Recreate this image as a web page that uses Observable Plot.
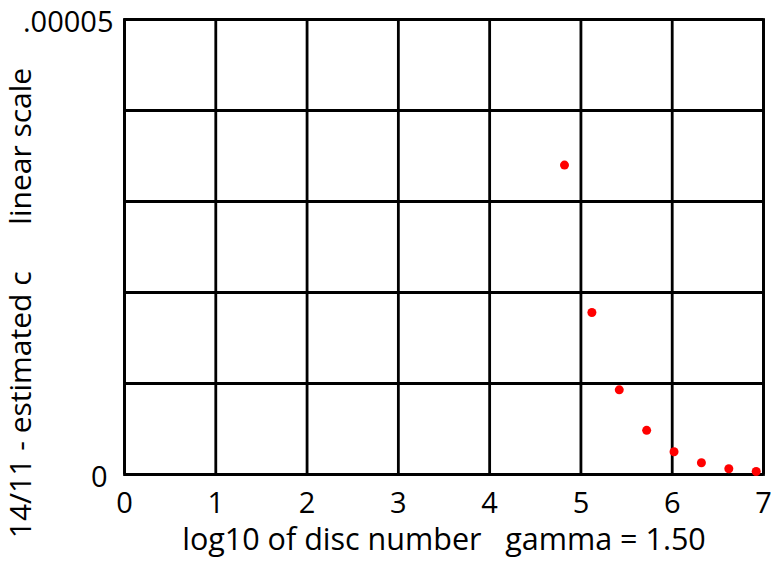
<!DOCTYPE html>
<html>
<head>
<meta charset="utf-8">
<script src="https://cdn.jsdelivr.net/npm/d3@7"></script>
<script src="https://cdn.jsdelivr.net/npm/@observablehq/plot@0.6"></script>
<style>
  html, body { margin: 0; padding: 0; background: #fff; }
  svg { font-family: "Open Sans", sans-serif; }
</style>
</head>
<body>
<div id="chart"></div>
<script>
// log10 of disc number
const xValues = [4.82, 5.12, 5.42, 5.72, 6.02, 6.32, 6.62, 6.92];
// 14/11 - estimated c
const yValues = [3.40e-5, 1.78e-5, 0.93e-5, 0.485e-5, 0.25e-5, 0.129e-5, 0.063e-5, 0.033e-5];
const xTicks = [0, 1, 2, 3, 4, 5, 6, 7];
const yGrid = [0, 1e-5, 2e-5, 3e-5, 4e-5, 5e-5];
const yTickTop = [5e-5];
const yTickBottom = [0];
const xLabel = "log10 of disc number\u00a0\u00a0\u00a0gamma = 1.50";
const yLabel = "14/11 - estimated c\u00a0\u00a0\u00a0\u00a0\u00a0\u00a0linear scale";

const data = xValues.map((x, i) => ({x, y: yValues[i]}));

const chart = Plot.plot({
  width: 771,
  height: 561,
  marginLeft: 124,
  marginRight: 8,
  marginTop: 19,
  marginBottom: 87,
  x: {domain: [0, 7]},
  y: {domain: [0, 5e-5]},
  style: {fontFamily: "'Open Sans', sans-serif", background: "#fff"},
  marks: [
    Plot.gridX(xTicks, {stroke: "black", strokeOpacity: 1, strokeWidth: 2.8}),
    Plot.gridY(yGrid, {stroke: "black", strokeOpacity: 1, strokeWidth: 2.8}),
    Plot.frame({stroke: "black", strokeWidth: 2.8}),
    Plot.axisX(xTicks, {tickSize: 0, tickPadding: 18, fontSize: 29, label: null, tickFormat: d => String(d), fill: "black"}),
    Plot.axisY(yTickTop, {tickSize: 0, tickPadding: 11, fontSize: 29, label: null, tickFormat: () => ".00005", fill: "black", dy: 3}),
    Plot.axisY(yTickBottom, {tickSize: 0, tickPadding: 17, fontSize: 29, label: null, tickFormat: () => "0", fill: "black", dy: 3}),
    Plot.dot(data, {x: "x", y: "y", r: 4.5, fill: "red", stroke: null}),
    Plot.text([xLabel], {frameAnchor: "bottom", dy: 75, fontSize: 30.5, fill: "black"}),
    Plot.text([yLabel], {frameAnchor: "left", textAnchor: "middle", rotate: -90, dx: -103, dy: 56, fontSize: 30, fill: "black"})
  ]
});
document.getElementById("chart").appendChild(chart);
</script>
</body>
</html>
